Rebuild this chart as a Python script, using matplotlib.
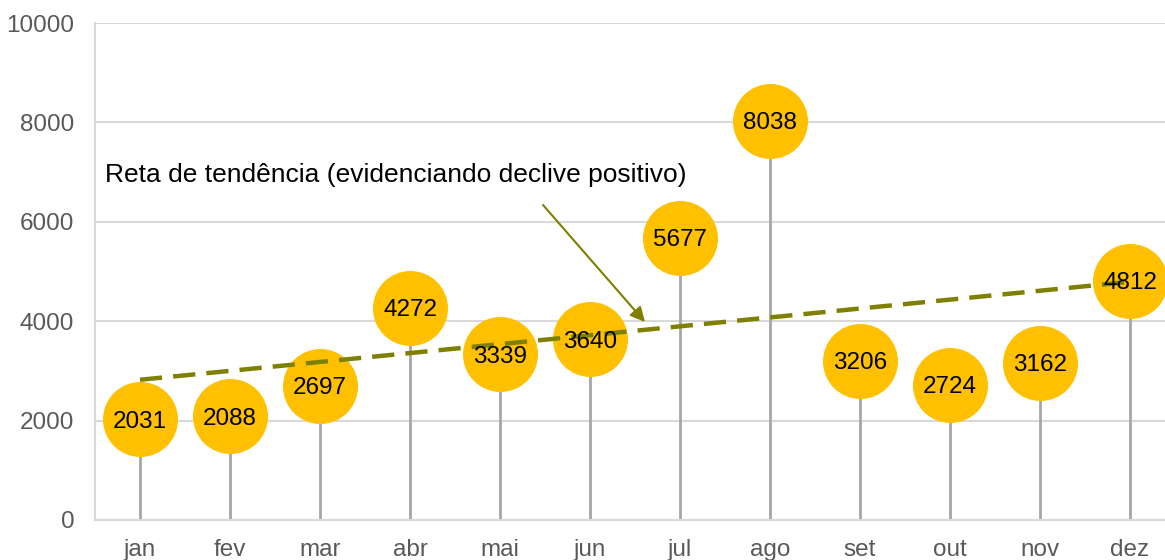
import numpy as np
import matplotlib.pyplot as plt

plt.rcParams['font.family'] = ['Liberation Sans', 'DejaVu Sans']

meses = ['jan', 'fev', 'mar', 'abr', 'mai', 'jun', 'jul', 'ago', 'set', 'out', 'nov', 'dez']
valores = [2031, 2088, 2697, 4272, 3339, 3640, 5677, 8038, 3206, 2724, 3162, 4812]

x = np.arange(len(meses))
y = np.array(valores)

fig = plt.figure(figsize=(11.65, 5.6), dpi=100)
ax = fig.add_axes([95/1165, 40/560, 1080/1165, 497/560])

# hastes e circulos
ax.vlines(x, 0, y, color='#a6a6a6', lw=2, zorder=2)
ax.plot(x, y, 'o', ms=54, color='#ffc000', mec='none', zorder=3)

# reta de tendencia (minimos quadrados, como no excel)
m, c = np.polyfit(x, y, 1)
ax.plot(x, m*x + c, ls=(0, (5, 2.5)), lw=3.2, color='#7f7f00', zorder=4)

for xi, yi in zip(x, y):
    ax.text(xi, yi, str(yi), ha='center', va='center_baseline', fontsize=17.5,
            color='black', zorder=5)

ax.annotate('', xy=(5.611, 3984), xytext=(4.478, 6338),
            arrowprops=dict(arrowstyle='-|>', color='#7f7f00', lw=1.5,
                            mutation_scale=22, shrinkA=0, shrinkB=0), zorder=6)
ax.text(-0.389, 6942, 'Reta de tendência (evidenciando declive positivo)',
        ha='left', va='center', fontsize=19, color='black', zorder=6)

ax.set_xlim(-0.5, 11.5)
ax.set_ylim(0, 10000)
ax.set_yticks(range(0, 10001, 2000))
ax.set_xticks(x)
ax.set_xticklabels(meses)
ax.grid(axis='y', color='#d9d9d9', lw=1.5, zorder=0)
ax.set_axisbelow(True)
for s in ['top', 'right']:
    ax.spines[s].set_visible(False)
ax.spines['left'].set_color('#d9d9d9')
ax.spines['bottom'].set_color('#d9d9d9')
ax.spines['left'].set_linewidth(1.5)
ax.spines['bottom'].set_linewidth(1.5)
ax.tick_params(length=0, labelsize=17.5, labelcolor='#595959')
ax.tick_params(axis='y', pad=15)
ax.tick_params(axis='x', pad=14)

fig.savefig('out.png', dpi=100)
